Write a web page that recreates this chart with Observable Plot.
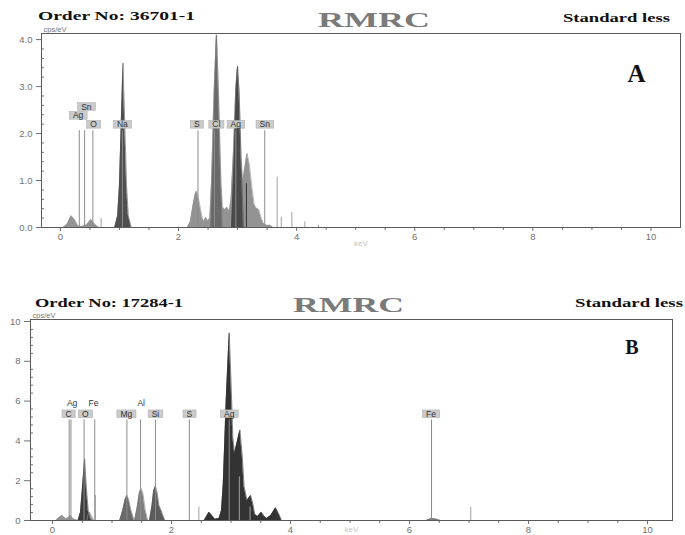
<!DOCTYPE html>
<html><head><meta charset="utf-8">
<script src="https://cdn.jsdelivr.net/npm/d3@7"></script>
<script src="https://cdn.jsdelivr.net/npm/@observablehq/plot@0.6"></script>
<style>
body{margin:0;background:#fff;}
#wrap{position:relative;width:685px;height:535px;overflow:hidden;background:#fff;}
#wrap > svg{position:absolute;left:0;}
</style></head>
<body><div id="wrap"></div>
<script>
// ---------------- shared ticks ----------------
const xTicks = [0, 2, 4, 6, 8, 10];
const xMinor = [0.5, 1, 1.5, 2.5, 3, 3.5, 4.5, 5, 5.5, 6.5, 7, 7.5, 8.5, 9, 9.5];

// ---------------- Panel A ----------------
const titleA = "Order No: 36701-1";
const yTicksA = [0, 1, 2, 3, 4];
const yLabelsA = ["0.0", "1.0", "2.0", "3.0", "4.0"];
const yMinorA = [0.2,0.4,0.6,0.8,1.2,1.4,1.6,1.8,2.2,2.4,2.6,2.8,3.2,3.4,3.6,3.8];
// spectrum outlines [keV, cps/eV]
const aLow = [[0.05,0],[0.12,0.08],[0.18,0.25],[0.24,0.17],[0.3,0.03],[0.36,0.02],[0.44,0.05],[0.52,0.17],[0.58,0.07],[0.65,0]];
const aNa = [[0.92,0],[0.97,0.25],[1.0,0.9],[1.03,2.2],[1.06,3.5],[1.09,2.2],[1.12,0.9],[1.15,0.25],[1.2,0]];
const aMid = [[2.15,0],[2.2,0.12],[2.25,0.5],[2.29,0.75],[2.31,0.77],[2.35,0.55],[2.4,0.22],[2.43,0.12],[2.46,0.22],[2.5,0.14],[2.53,0.2],[2.56,1.0],[2.6,2.8],[2.64,4.1],[2.68,2.8],[2.72,0.9],[2.75,0.42],[2.79,0.38],[2.82,0.43],[2.86,0.35],[2.89,0.6],[2.93,1.6],[2.97,3.0],[3.0,3.43],[3.03,2.8],[3.06,1.5],[3.09,1.0],[3.12,1.25],[3.16,1.58],[3.2,1.35],[3.24,0.9],[3.28,0.5],[3.31,0.42],[3.36,0.38],[3.4,0.2],[3.44,0.08],[3.5,0.04],[3.55,0.05],[3.6,0]];
const aCl = [[2.55,0],[2.59,1.6],[2.625,3.3],[2.645,4.1],[2.665,3.3],[2.70,1.6],[2.74,0]];
const aAg = [[2.9,0],[2.94,1.4],[2.975,2.9],[3.0,3.43],[3.025,2.9],[3.06,1.4],[3.1,0]];
const aSpikes = [[0.69,0.19],[3.67,1.07],[3.74,0.22],[3.92,0.32],[4.14,0.12],[4.37,0.05]];
const aDarkLines = [[3.15,0.93]];
// element markers
const markA_el = ["Ag","Sn","O","Na","S","Cl","Ag","Sn"];
const markA_e  = [0.32,0.41,0.55,1.05,2.33,2.61,2.97,3.46];
const labA_x   = [0.30,0.44,0.56,1.05,2.31,2.64,2.97,3.46];
const labA_y   = [2.38,2.57,2.19,2.19,2.19,2.19,2.19,2.19];
const markTopA = 2.06;

// ---------------- Panel B ----------------
const titleB = "Order No: 17284-1";
const yTicksB = [0, 2, 4, 6, 8, 10];
const yMinorB = [0.4,0.8,1.2,1.6,2.4,2.8,3.2,3.6,4.4,4.8,5.2,5.6,6.4,6.8,7.2,7.6,8.4,8.8,9.2,9.6];
const bLow = [[0.06,0],[0.1,0.12],[0.16,0.25],[0.22,0.1],[0.26,0.12],[0.3,0.25],[0.35,0.08],[0.42,0]];
const bOlight = [[0.58,0],[0.6,0.35],[0.63,0.4],[0.66,0.2],[0.7,0]];
const bO = [[0.43,0],[0.47,0.4],[0.5,1.5],[0.54,3.1],[0.57,1.6],[0.6,0.5],[0.63,0.1],[0.66,0]];
const bMg = [[1.13,0],[1.18,0.5],[1.22,1.05],[1.25,1.26],[1.28,1.05],[1.32,0.5],[1.37,0]];
const bAl = [[1.38,0],[1.42,0.6],[1.46,1.4],[1.49,1.6],[1.52,1.35],[1.56,0.5],[1.6,0]];
const bSi = [[1.63,0],[1.67,0.7],[1.7,1.5],[1.73,1.72],[1.76,1.4],[1.79,0.75],[1.82,0.55],[1.85,0.3],[1.89,0]];
const bAg = [[2.55,0],[2.59,0.2],[2.63,0.42],[2.68,0.25],[2.73,0.06],[2.8,0.1],[2.84,0.5],[2.87,1.85],[2.92,6.1],[2.97,9.43],[3.0,7.0],[3.03,4.2],[3.06,3.37],[3.1,3.9],[3.15,4.55],[3.19,3.2],[3.22,1.7],[3.27,1.0],[3.33,1.26],[3.37,0.8],[3.4,0.3],[3.45,0.2],[3.51,0.42],[3.56,0.2],[3.6,0.1],[3.67,0.25],[3.75,0.64],[3.8,0.35],[3.85,0]];
const bFe = [[6.28,0],[6.36,0.1],[6.44,0.08],[6.52,0]];
const bSpikes = [[0.72,1.26],[2.46,0.67],[3.14,2.19],[3.32,0.67],[7.03,0.67]];
const markB_el = ["C","Ag","O","Fe","Mg","Al","Si","S","Ag","Fe"];
const markB_e  = [0.28,0.31,0.53,0.71,1.25,1.48,1.73,2.30,2.97,6.37];
const labB_x   = [0.27,0.33,0.55,0.69,1.24,1.49,1.73,2.30,2.97,6.36];
const labB_y   = [5.35,5.88,5.35,5.88,5.35,5.88,5.35,5.35,5.35,5.35];
const labB_box = [true,false,true,false,true,false,true,true,true,true];
const markTopB = 5.05;

// ---------------- helpers ----------------
const sans = "'Liberation Sans', Arial, sans-serif";
const serif = "'Liberation Serif', 'Times New Roman', serif";
const BOXED_INK = "#2f2f2f", PLAIN_INK = "#333333";
const area = (pts, fill) => Plot.areaY(pts, {x: d => d[0], y: d => d[1], fill, curve: "linear"});
const edge = (pts, stroke) => Plot.lineY(pts, {x: d => d[0], y: d => d[1], stroke, strokeWidth: 0.6});

function panel(o) {
  const innerW = o.width - o.ml - o.mr, innerH = o.height - o.mt - o.mb;
  const mi = d3.range(o.mark_e.length);
  const boxed = mi.filter(i => !o.lab_box || o.lab_box[i]);
  const plain = mi.filter(i => o.lab_box && !o.lab_box[i]);
  return Plot.plot({
    width: o.width, height: o.height,
    marginTop: o.mt, marginRight: o.mr, marginBottom: o.mb, marginLeft: o.ml,
    style: {fontFamily: sans, fontSize: "9.5px", color: "#707070", background: "transparent", overflow: "visible"},
    x: {domain: o.xdom, ticks: xTicks, tickSize: 4, tickPadding: 2, tickFormat: d => String(d), label: null},
    y: {domain: o.ydom, ticks: o.yTicks, tickSize: o.ytickSize, tickPadding: 4,
        tickFormat: d => o.yLabels ? o.yLabels[o.yTicks.indexOf(d)] : String(d), label: null},
    marks: [
      ...o.areas.map(([pts, c]) => area(pts, c)),
      ...o.areas.map(([pts, c]) => edge(pts, c)),
      Plot.ruleX(o.spikes, {x: d => d[0], y1: 0, y2: d => d[1], stroke: "#a0a0a0", strokeWidth: 1}),
      Plot.ruleX(o.darkLines || [], {x: d => d[0], y1: 0, y2: d => d[1], stroke: "#333", strokeWidth: 1}),
      Plot.ruleX(mi, {x: i => o.mark_e[i], y1: 0, y2: o.markTop, stroke: "#8c8c8c", strokeWidth: 1}),
      Plot.text(boxed, {x: i => o.lab_x[i], y: i => o.lab_y[i], text: i => o.mark_el[i],
        fill: BOXED_INK, fontSize: 8.5, fontFamily: sans}),
      Plot.text(plain, {x: i => o.lab_x[i], y: i => o.lab_y[i], text: i => o.mark_el[i],
        fill: PLAIN_INK, fontSize: 8.5, fontFamily: sans}),
      // minor ticks: inward on y, outward on x
      Plot.tickY(o.yMinor, {y: d => d, insetRight: innerW - 3, stroke: "#707070", strokeWidth: 1}),
      Plot.tickX(xMinor, {x: d => d, insetTop: innerH, insetBottom: -3, stroke: "#707070", strokeWidth: 1}),
      Plot.frame({stroke: "#5a5a5a", strokeWidth: 1}),
      Plot.text(["cps/eV"], {frameAnchor: "top-left", dx: 2, dy: -1.5, lineAnchor: "bottom", textAnchor: "start",
        fontSize: 7.5, fill: "#777"}),
      Plot.text(["keV"], {frameAnchor: "bottom", dy: o.kevDy, lineAnchor: "middle", fontSize: 8, fill: "#c4c4c4"}),
      Plot.text([o.letter], {frameAnchor: "top-right", dx: o.letterDx, dy: o.letterDy, lineAnchor: "middle",
        fontSize: o.letterSize, fontWeight: "bold", fontFamily: serif, fill: "#111"})
    ]
  });
}

function boxLabels(svg) {
  const texts = [];
  svg.querySelectorAll("g").forEach(g => {
    if ((g.getAttribute("fill") || "").toLowerCase() === BOXED_INK) g.querySelectorAll("text").forEach(t => texts.push(t));
  });
  texts.forEach(t => {
    const b = t.getBBox();
    const r = document.createElementNS("http://www.w3.org/2000/svg", "rect");
    r.setAttribute("x", b.x - 3.5);
    r.setAttribute("y", b.y + 1.2);
    r.setAttribute("width", b.width + 7);
    r.setAttribute("height", Math.max(0, b.height - 2.4));
    r.setAttribute("fill", "#cbcbcb");
    r.setAttribute("stroke", "#b0b0b0");
    r.setAttribute("stroke-width", "0.6");
    const tr = t.getAttribute("transform");
    if (tr) r.setAttribute("transform", tr);
    t.parentNode.insertBefore(r, t);
  });
}

const wrap = document.getElementById("wrap");

const svgA = panel({
  width: 685, height: 250, mt: 33, mr: 5, mb: 23, ml: 41,
  xdom: [-0.32, 10.5], ydom: [0, 4.13], yTicks: yTicksA, yLabels: yLabelsA, yMinor: yMinorA, ytickSize: 5,
  areas: [[aLow, "#939393"], [aNa, "#4f4f4f"], [aMid, "#939393"], [aCl, "#6a6a6a"], [aAg, "#4a4a4a"]],
  spikes: aSpikes, darkLines: aDarkLines,
  mark_el: markA_el, mark_e: markA_e, lab_x: labA_x, lab_y: labA_y, markTop: markTopA,
  kevDy: 16, letter: "A", letterDx: -35, letterDy: 40, letterSize: 25
});
svgA.style.top = "0px";
wrap.appendChild(svgA);
boxLabels(svgA);

const svgB = panel({
  width: 685, height: 249, mt: 33, mr: 13, mb: 15, ml: 30,
  xdom: [-0.37, 10.42], ydom: [0, 10.1], yTicks: yTicksB, yLabels: null, yMinor: yMinorB, ytickSize: 6,
  areas: [[bLow, "#939393"], [bOlight, "#a0a0a0"], [bO, "#3c3c3c"], [bMg, "#6a6a6a"], [bAl, "#7e7e7e"],
          [bSi, "#5c5c5c"], [bAg, "#333333"], [bFe, "#7a7a7a"]],
  spikes: bSpikes,
  mark_el: markB_el, mark_e: markB_e, lab_x: labB_x, lab_y: labB_y, lab_box: labB_box, markTop: markTopB,
  kevDy: 9, letter: "B", letterDx: -34, letterDy: 28, letterSize: 20
});
svgB.style.top = "286px";
wrap.appendChild(svgB);
boxLabels(svgB);

// ---------------- headers (stretched serif text like the scan) ----------------
const headers = [
  {t: titleA, x: 38, y: 20, w: 157, s: 13, c: "#111"},
  {t: "RMRC", x: 318, y: 27, w: 112, s: 22, c: "#7a7a7a"},
  {t: "Standard less", x: 563, y: 22, w: 107, s: 12, c: "#111"},
  {t: titleB, x: 35, y: 307, w: 148, s: 13.5, c: "#111"},
  {t: "RMRC", x: 293, y: 312, w: 111, s: 22, c: "#7a7a7a"},
  {t: "Standard less", x: 575, y: 307, w: 108, s: 12, c: "#111"}
];
const hs = d3.select(wrap).append("svg").attr("width", 685).attr("height", 535)
  .style("top", "0px").style("pointer-events", "none");
hs.selectAll("text").data(headers).join("text")
  .attr("x", d => d.x).attr("y", d => d.y)
  .attr("textLength", d => d.w).attr("lengthAdjust", "spacingAndGlyphs")
  .attr("font-family", serif).attr("font-weight", "bold")
  .attr("font-size", d => d.s).attr("fill", d => d.c)
  .text(d => d.t);
</script></body></html>
